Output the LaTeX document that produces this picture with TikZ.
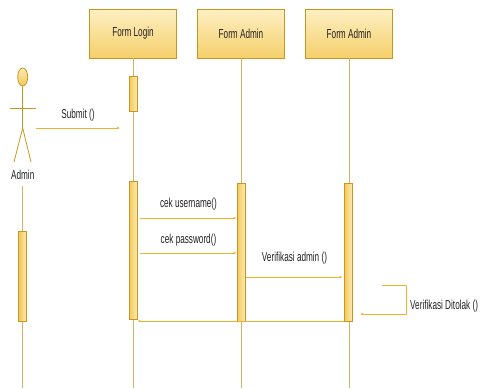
\documentclass[tikz,border=0pt]{standalone}
\usepackage{fontspec}
\setmainfont[FakeStretch=0.63]{Liberation Sans}
\usetikzlibrary{positioning,arrows.meta,shapes.geometric}
\definecolor{goldline}{HTML}{C8961E}
\definecolor{lifegold}{HTML}{D6B162}
\definecolor{msggold}{HTML}{F2B12C}
\definecolor{txtgray}{HTML}{222222}

\begin{document}
\begin{tikzpicture}[x=1pt,y=-1pt,
	headbox/.style={draw=goldline,line width=0.9pt,top color={rgb,255:red,253;green,240;blue,196},bottom color={rgb,255:red,245;green,207;blue,106},minimum width=87pt,minimum height=49pt,inner sep=0pt,font=\fontsize{13}{15}\selectfont,text=txtgray},
	actbox/.style={draw=goldline,line width=0.8pt,left color={rgb,255:red,245;green,200;blue,90},right color={rgb,255:red,252;green,234;blue,178},minimum width=8pt,inner sep=0pt},
	lifeline/.style={lifegold,line width=0.9pt},
	msg/.style={msggold,line width=0.9pt,-{Latex[length=3pt,width=2.6pt]}},
	lbl/.style={font=\fontsize{13}{15}\selectfont,text=txtgray,inner sep=0pt}]
	
	\useasboundingbox (0,0) rectangle (481,388);
	
	% heads and lifelines
	\foreach \name/\x/\txt in {login/133/Form Login, admina/241/Form Admin, adminb/349/Form Admin} {
		\node[headbox] (\name) at (\x,33.5) {\txt};
		\draw[lifeline] (\name.south) -- (\x,388);
	}
	
	% actor
	\node[ellipse,draw=goldline,line width=0.8pt,top color={rgb,255:red,252;green,234;blue,178},bottom color={rgb,255:red,245;green,200;blue,90},minimum width=10pt,minimum height=18pt,inner sep=0pt] (head) at (22.7,77) {};
	\coordinate (hip) at (22.7,128);
	\draw[goldline,line width=0.8pt] (head.south) -- (hip);
	\draw[goldline,line width=0.8pt] (10,108) -- (36,108);
	\draw[goldline,line width=0.8pt] (14,162) -- (hip) -- (31,162);
	\node[lbl] (actor) at (22.7,175) {Admin};
	\draw[lifeline] (22.7,186) -- (22.7,388);
	
	% activations
	\node[actbox,minimum height=35pt] (loginA) at (133,93.5) {};
	\node[actbox,minimum height=138pt] (loginB) at (133,250) {};
	\node[actbox,minimum height=90pt] (actA) at (22.7,276) {};
	\node[actbox,minimum height=138pt] (adminaA) at (241,252) {};
	\node[actbox,minimum height=138pt] (adminbA) at (348,252) {};
	
	% messages
	\coordinate (sub1) at (36,128);
	\coordinate (sub2) at (120,128);
	\draw[msg] (sub1) -- (sub2) node[lbl,midway,above=6pt] {Submit ()};
	
	\draw[msg] ([xshift=3pt]loginB.east |- 0,218) -- (adminaA.west |- 0,218) node[lbl,midway,above=7pt] {cek username()};
	\draw[msg] ([xshift=3pt]loginB.east |- 0,253) -- (adminaA.west |- 0,253) node[lbl,midway,above=6pt] {cek password()};
	\draw[msg] ([xshift=1pt]adminaA.east |- 0,277) -- ([xshift=-1pt]adminbA.west |- 0,277) node[lbl,midway,above=12pt] {Verifikasi admin ()};
	\draw[msg] (adminbA.west |- 0,321) -- (loginB.east |- 0,321);
	
	% rejected
	\coordinate (rej1) at (382,285);
	\coordinate (rej2) at (406,285);
	\coordinate (rej3) at (406,314);
	\coordinate (rej4) at (360,314);
	\draw[msg] (rej1) -- (rej2) -- (rej3) -- (rej4);
	\node[lbl,anchor=west] (rejtxt) at (410,306) {Verifikasi Ditolak ()};
	
\end{tikzpicture}
\end{document}
